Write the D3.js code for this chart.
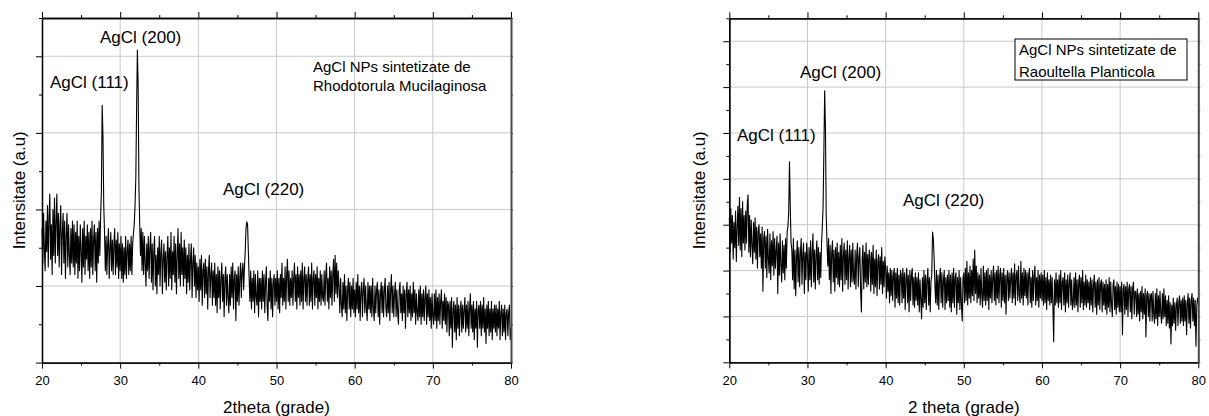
<!DOCTYPE html>
<html>
<head>
<meta charset="utf-8">
<script src="https://cdn.jsdelivr.net/npm/d3@7"></script>
<style>
  html, body { margin: 0; padding: 0; background: #fff; }
  svg { display: block; }
  text { font-family: "Liberation Sans", Arial, sans-serif; fill: #000; }
</style>
</head>
<body>
<svg id="chart" width="1209" height="416"></svg>
<script>
// ---------- DATA ----------
const xMajorTicks = [20, 30, 40, 50, 60, 70, 80];
const xMinorTicks = [25, 35, 45, 55, 65, 75];
const thetaStart = 20, thetaStep = 0.1, thetaCount = 601;

// Left panel: AgCl NPs from Rhodotorula Mucilaginosa (arbitrary units)
const rhodotorula = [
1.75,1.30,1.95,1.50,1.20,1.85,1.45,2.05,1.25,1.90,2.20,1.35,1.80,1.15,2.00,1.40,2.15,1.30,1.85,2.20,
1.40,1.95,1.25,1.80,2.05,1.15,1.70,1.95,1.30,1.85,1.10,1.65,1.95,1.25,1.80,1.40,1.15,1.75,1.30,1.85,
1.25,1.80,1.15,1.70,1.30,1.85,1.10,1.65,1.20,1.80,1.45,1.05,1.75,1.25,1.85,1.15,1.65,1.35,1.80,1.20,
1.70,1.10,1.75,1.25,1.85,1.15,1.60,1.80,1.20,1.70,1.05,1.75,1.30,1.85,1.40,1.90,2.25,3.36,2.95,2.05,
1.70,1.20,1.65,1.15,1.55,1.75,1.10,1.50,1.70,1.20,1.60,1.15,1.55,1.75,1.15,1.60,1.25,1.70,1.10,1.55,
1.20,1.65,1.10,1.55,1.05,1.50,1.15,1.65,1.10,1.45,1.60,1.15,1.55,1.20,1.65,1.15,1.55,1.70,1.80,2.05,
2.40,3.30,4.08,3.60,2.30,1.80,1.40,1.75,1.20,1.70,1.15,1.65,1.30,1.00,1.55,1.20,1.65,1.10,1.50,1.70,
1.05,1.55,0.95,1.45,1.65,1.00,1.40,0.90,1.50,1.15,1.65,1.00,1.45,1.60,0.90,1.35,1.55,1.05,1.45,0.95,
1.40,1.65,1.00,1.50,1.10,1.70,0.95,1.45,1.15,1.65,1.05,1.55,0.90,1.40,1.75,1.10,1.55,1.00,1.70,1.15,
1.50,1.00,1.60,1.10,1.50,0.90,1.40,1.05,1.55,0.95,1.35,1.55,0.85,1.30,1.50,1.00,1.40,0.85,1.30,0.95,
1.25,0.80,1.35,0.95,1.40,0.75,1.20,1.30,0.85,1.35,0.90,1.25,0.70,1.20,1.40,0.85,1.15,1.30,0.75,1.20,
0.85,1.30,0.75,1.15,0.65,1.25,0.85,1.20,0.70,1.10,1.30,0.80,1.15,0.60,1.10,1.25,0.75,1.15,0.85,0.65,
1.15,0.75,1.25,0.85,1.30,0.70,1.10,1.20,0.55,1.15,0.80,1.25,0.75,1.10,1.30,0.85,1.20,1.30,0.95,1.25,
1.45,1.75,1.84,1.80,1.45,1.10,0.80,1.20,0.70,1.10,0.80,1.20,0.65,1.15,0.85,0.75,1.20,0.60,1.10,0.80,
1.10,0.70,1.20,0.80,1.15,0.65,1.05,1.25,0.75,0.55,1.10,0.80,1.20,0.70,1.10,0.60,1.05,1.15,0.75,1.10,
0.80,1.20,0.70,1.10,0.65,1.15,0.85,1.30,0.75,1.10,0.80,1.25,0.70,1.15,1.35,0.80,1.20,0.75,1.10,0.85,
1.20,0.75,1.10,1.30,0.80,1.15,0.70,1.25,0.85,1.15,0.75,1.20,0.80,1.30,0.70,1.10,1.25,0.80,1.15,0.75,
1.10,1.25,0.75,1.15,0.80,1.30,0.70,1.10,1.20,0.75,1.15,0.85,1.25,0.70,1.10,0.80,1.20,0.75,1.15,0.85,
0.80,1.20,0.75,1.15,1.30,0.80,1.10,0.70,1.25,0.85,1.20,0.75,1.15,1.35,0.80,1.40,0.90,1.30,0.85,1.20,
1.00,0.65,1.10,0.75,0.60,1.05,0.70,1.15,0.65,1.00,0.55,0.95,1.10,0.70,1.05,0.60,1.00,0.70,1.10,0.65,
0.95,0.60,1.05,0.70,1.15,0.65,1.00,0.55,0.95,1.05,0.60,0.95,1.10,0.65,1.00,0.70,0.55,1.05,0.70,1.00,
0.65,1.00,0.60,1.10,0.70,0.55,1.00,0.65,0.95,1.05,0.60,0.95,0.50,0.90,1.05,0.65,1.00,0.60,0.95,1.10,
0.70,0.60,1.00,0.65,1.05,0.55,0.95,1.15,0.65,1.00,0.60,0.90,1.05,0.60,0.95,0.65,0.50,0.95,1.05,0.65,
0.90,0.55,1.00,0.65,0.95,0.45,0.90,1.05,0.60,0.95,0.65,1.00,0.55,0.90,0.60,1.05,0.65,0.95,0.50,0.90,
0.65,0.55,0.95,0.60,1.00,0.50,0.90,0.60,0.95,0.55,0.85,1.00,0.50,0.90,0.60,0.95,0.55,0.85,0.45,0.90,
0.60,0.50,0.90,0.55,0.95,0.45,0.85,0.55,0.90,0.50,0.80,0.95,0.45,0.80,0.55,0.90,0.50,0.85,0.40,0.80,
0.75,0.35,0.80,0.45,0.85,0.20,0.70,0.80,0.40,0.75,0.30,0.85,0.45,0.75,0.35,0.70,0.80,0.40,0.75,0.45,
0.70,0.85,0.40,0.75,0.45,0.80,0.35,0.70,0.90,0.45,0.75,0.40,0.80,0.30,0.70,0.45,0.80,0.20,0.70,0.75,
0.45,0.80,0.35,0.75,0.45,0.85,0.40,0.70,0.25,0.75,0.45,0.80,0.35,0.70,0.40,0.80,0.30,0.70,0.45,0.75,
0.40,0.75,0.35,0.70,0.45,0.80,0.30,0.65,0.75,0.35,0.70,0.40,0.75,0.30,0.65,0.70,0.35,0.65,0.75,0.30,
0.45];

// Right panel: AgCl NPs from Raoultella Planticola (arbitrary units)
const raoultella = [
3.15,2.40,3.35,2.60,3.20,2.25,3.05,2.50,3.30,2.20,2.95,3.40,2.55,3.60,2.45,3.35,2.30,3.50,2.60,3.20,
2.45,3.30,2.60,3.45,3.65,2.40,3.20,2.30,3.10,2.55,2.15,3.05,2.40,3.15,2.25,2.95,2.05,2.85,3.00,2.30,
2.80,2.05,2.95,1.55,2.70,2.85,2.05,2.75,1.85,2.90,2.25,1.95,2.80,1.80,2.65,2.10,2.85,1.90,2.70,2.05,
2.45,2.75,1.50,2.60,1.90,2.80,2.10,1.75,2.65,1.95,2.55,1.80,2.70,2.05,2.85,2.95,3.30,4.37,3.40,2.60,
2.45,1.80,2.70,1.60,2.45,1.45,2.30,2.65,1.75,2.50,1.65,2.40,2.70,1.70,2.35,2.60,1.50,2.40,1.80,2.60,
2.30,1.55,2.50,1.80,2.65,1.65,2.40,2.80,1.75,2.45,1.60,2.35,2.65,1.80,2.50,1.70,2.40,1.85,2.60,2.95,
3.40,4.60,5.92,5.10,3.20,2.60,2.10,2.70,1.80,2.55,1.50,2.40,2.65,1.75,2.45,1.55,2.50,1.85,2.60,1.70,
2.40,1.65,2.55,1.80,2.70,1.55,2.35,2.60,1.70,2.45,1.80,2.65,1.60,2.30,2.55,1.65,2.45,1.75,2.60,1.85,
1.70,2.45,1.60,2.35,2.60,1.65,2.30,2.50,1.55,1.10,2.25,2.55,1.60,2.40,1.75,2.60,1.65,2.35,1.70,2.45,
2.30,1.55,2.40,1.70,2.55,1.50,2.25,1.65,2.45,1.45,2.20,2.35,1.60,2.30,1.70,2.50,1.50,2.20,1.65,2.30,
2.05,1.40,2.10,1.55,1.95,1.30,2.05,1.45,2.00,1.35,1.90,2.05,1.20,1.95,1.40,2.05,1.30,1.90,1.25,2.00,
1.90,1.30,2.05,1.40,1.95,1.15,1.85,2.05,1.30,1.90,1.10,2.00,1.35,1.90,2.05,1.25,1.85,1.20,1.95,1.35,
1.85,1.25,1.95,1.10,1.80,1.35,0.95,1.85,1.20,2.00,1.30,1.90,1.15,1.80,2.05,1.25,1.85,1.10,1.75,1.90,
2.84,2.70,2.30,1.70,1.30,2.00,1.25,1.90,1.15,1.85,2.05,1.30,1.95,1.20,1.80,2.00,1.15,1.85,1.30,1.90,
1.35,2.00,1.20,1.90,1.10,1.95,1.30,2.05,1.20,1.85,1.95,1.05,1.85,1.30,2.00,1.15,1.85,1.25,0.90,1.85,
1.95,1.30,2.05,1.35,2.20,1.25,1.95,1.40,2.10,1.30,2.00,1.45,2.25,1.35,2.45,1.50,2.10,1.30,1.95,1.40,
1.90,1.25,2.05,1.45,1.20,2.10,1.35,1.95,1.25,2.00,1.35,2.05,1.15,1.90,1.40,2.00,1.30,1.85,2.10,1.35,
1.95,1.25,2.00,1.40,2.10,1.30,1.90,2.05,1.20,1.95,1.35,2.05,1.30,1.90,1.05,1.85,2.00,1.35,1.95,1.40,
1.85,2.05,1.30,1.95,1.40,2.15,1.25,1.90,2.00,1.35,2.10,1.45,1.30,2.20,1.40,1.95,1.25,2.05,1.45,2.00,
1.40,1.95,1.25,1.90,2.05,1.30,1.85,1.20,2.00,1.35,1.90,2.10,1.25,1.85,1.35,2.00,1.20,1.90,1.40,1.95,
1.35,1.90,1.25,2.00,1.30,1.85,1.15,1.95,1.35,1.80,1.25,1.90,1.30,1.85,1.20,0.45,1.80,1.25,1.95,1.30,
1.80,1.20,1.90,1.30,2.00,1.15,1.75,1.85,1.25,1.95,1.10,1.80,1.30,1.90,1.20,1.75,1.95,1.25,1.80,1.15,
1.30,1.85,1.20,1.95,1.25,1.80,1.10,1.75,1.90,1.20,1.85,1.30,2.00,1.15,1.75,1.25,1.90,1.20,1.80,1.30,
1.75,1.15,1.85,1.25,1.80,1.10,1.70,1.90,1.20,1.75,1.05,1.80,1.25,1.85,1.15,1.70,1.80,1.10,1.75,1.25,
1.70,1.15,1.80,1.05,1.70,1.20,1.85,1.10,1.75,1.25,1.00,1.70,1.80,1.15,1.65,1.05,1.75,1.20,1.70,1.10,
1.65,1.10,1.75,0.60,1.60,1.70,1.05,1.65,1.15,1.75,1.00,1.60,1.70,1.10,1.65,0.95,1.60,1.75,1.05,1.55,
1.55,1.00,1.60,1.05,1.50,0.90,1.55,1.10,1.65,0.95,1.50,1.05,1.60,0.55,1.45,1.55,1.00,1.50,0.90,1.45,
1.50,0.90,1.55,1.05,0.85,1.50,0.95,1.60,0.80,1.45,1.00,1.55,1.05,0.85,1.50,0.95,1.60,1.00,1.45,0.80,
1.35,0.85,1.45,0.75,1.30,0.40,1.25,0.80,1.40,0.85,1.30,0.70,1.25,1.40,0.80,1.30,1.45,0.85,1.35,0.90,
1.40,0.80,1.45,0.90,1.35,0.60,1.30,1.50,0.85,1.40,0.75,1.35,1.50,0.90,1.40,0.80,1.35,0.35,1.20,1.40,
1.30];

const yTitle = "Intensitate (a.u)";

const panels = [
  { id: "left", series: rhodotorula, yMax: 4.5, yMajor: [0,1,2,3,4], yMinor: [0.5,1.5,2.5,3.5,4.5],
    xTitle: "2theta (grade)",
    peaks: [ {t:"AgCl (111)", x:50, y:88}, {t:"AgCl (200)", x:100, y:43}, {t:"AgCl (220)", x:223, y:195} ],
    note: ["AgCl NPs sintetizate de", "Rhodotorula Mucilaginosa"], noteBox: false },
  { id: "right", series: raoultella, yMax: 7.5, yMajor: [0,1,2,3,4,5,6,7], yMinor: [0.5,1.5,2.5,3.5,4.5,5.5,6.5,7.5],
    xTitle: "2 theta (grade)",
    peaks: [ {t:"AgCl (111)", x:737, y:141}, {t:"AgCl (200)", x:800, y:78}, {t:"AgCl (220)", x:903, y:206} ],
    note: ["AgCl NPs sintetizate de", "Raoultella Planticola"], noteBox: true }
];

// ---------- LAYOUT ----------
const geom = {
  left:  { x0: 42,    x1: 511,    y0: 362.6, y1: 18,   ylabX: 25 },
  right: { x0: 729.3, x1: 1198.3, y0: 362.3, y1: 18.3, ylabX: 705 }
};
const notePos = {
  left:  { x: 313, y: 72, dy: 19 },
  right: { x: 1019, y: 55, dy: 22, box: { x: 1015, y: 39, w: 172, h: 41 } }
};

const svg = d3.select("#chart");
const twoTheta = d3.range(thetaCount).map(i => thetaStart + i * thetaStep);

panels.forEach(p => {
  const g = geom[p.id];
  const x = d3.scaleLinear().domain([20, 80]).range([g.x0, g.x1]);
  const y = d3.scaleLinear().domain([0, p.yMax]).range([g.y0, g.y1]);
  const root = svg.append("g");

  // grid
  root.append("g").selectAll("line").data(xMajorTicks.slice(1, -1)).join("line")
    .attr("x1", d => x(d)).attr("x2", d => x(d)).attr("y1", g.y0).attr("y2", g.y1)
    .attr("stroke", "#c8c8c8").attr("stroke-width", 1);
  root.append("g").selectAll("line").data(p.yMajor.slice(1)).join("line")
    .attr("x1", g.x0).attr("x2", g.x1).attr("y1", d => y(d)).attr("y2", d => y(d))
    .attr("stroke", "#c8c8c8").attr("stroke-width", 1);

  // data line
  const line = d3.line().x((d, i) => x(twoTheta[i])).y(d => y(d));
  root.append("path").datum(p.series).attr("d", line)
    .attr("fill", "none").attr("stroke", "#000").attr("stroke-width", 1.1)
    .attr("stroke-linejoin", "round");

  const styleAxis = sel => {
    sel.selectAll("path.domain").attr("stroke", "#000").attr("stroke-width", 1.3);
    sel.selectAll(".tick line").attr("stroke", "#000").attr("stroke-width", 1);
  };

  // bottom axis
  root.append("g").attr("transform", `translate(0,${g.y0})`)
    .call(d3.axisBottom(x).tickValues(xMinorTicks).tickSize(3).tickSizeOuter(0).tickFormat(""))
    .call(styleAxis);
  const bx = root.append("g").attr("transform", `translate(0,${g.y0})`)
    .call(d3.axisBottom(x).tickValues(xMajorTicks).tickSize(6).tickSizeOuter(0).tickPadding(7).tickFormat(d3.format("d")))
    .call(styleAxis);
  bx.selectAll("text").attr("font-size", 13).attr("font-family", "Liberation Sans, Arial, sans-serif");

  // top axis
  root.append("g").attr("transform", `translate(0,${g.y1})`)
    .call(d3.axisTop(x).tickValues(xMinorTicks).tickSize(3).tickSizeOuter(0).tickFormat(""))
    .call(styleAxis);
  root.append("g").attr("transform", `translate(0,${g.y1})`)
    .call(d3.axisTop(x).tickValues(xMajorTicks).tickSize(6).tickSizeOuter(0).tickFormat(""))
    .call(styleAxis);

  // left axis
  root.append("g").attr("transform", `translate(${g.x0},0)`)
    .call(d3.axisLeft(y).tickValues(p.yMinor).tickSize(3).tickSizeOuter(0).tickFormat(""))
    .call(styleAxis);
  root.append("g").attr("transform", `translate(${g.x0},0)`)
    .call(d3.axisLeft(y).tickValues(p.yMajor).tickSize(6).tickSizeOuter(0).tickFormat(""))
    .call(styleAxis);

  // right axis (thicker gray line, tiny ticks)
  const ra = root.append("g").attr("transform", `translate(${g.x1},0)`)
    .call(d3.axisRight(y).tickValues(p.yMajor.concat(p.yMinor)).tickSize(2).tickSizeOuter(0).tickFormat(""));
  ra.selectAll("path.domain").attr("stroke", "#4a4a4a").attr("stroke-width", 2);
  ra.selectAll(".tick line").attr("stroke", "#4a4a4a");

  // titles
  root.append("text").attr("x", (g.x0 + g.x1) / 2).attr("y", 413)
    .attr("text-anchor", "middle").attr("font-size", 17).text(p.xTitle);
  root.append("text").attr("transform", `translate(${g.ylabX},${(g.y0 + g.y1) / 2}) rotate(-90)`)
    .attr("text-anchor", "middle").attr("font-size", 17).text(yTitle);

  // peak labels
  root.append("g").selectAll("text").data(p.peaks).join("text")
    .attr("x", d => d.x).attr("y", d => d.y).attr("font-size", 17).text(d => d.t);

  // note
  const np = notePos[p.id];
  if (p.noteBox) {
    root.append("rect").attr("x", np.box.x).attr("y", np.box.y).attr("width", np.box.w).attr("height", np.box.h)
      .attr("fill", "#fff").attr("stroke", "#000").attr("stroke-width", 1);
  }
  root.append("g").selectAll("text").data(p.note).join("text")
    .attr("x", np.x).attr("y", (d, i) => np.y + i * np.dy).attr("font-size", 15).text(d => d);
});
</script>
</body>
</html>
